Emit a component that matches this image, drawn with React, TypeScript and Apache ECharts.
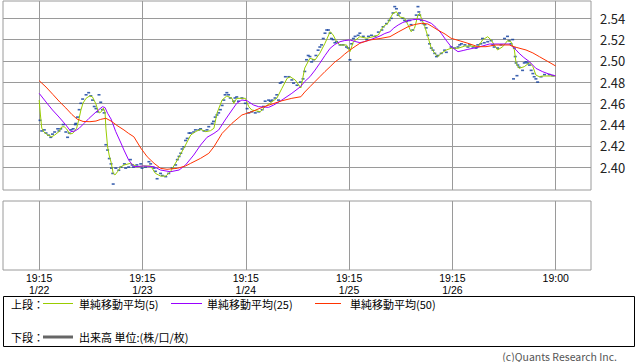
import React, { useEffect, useRef } from 'react';
import * as echarts from 'echarts';

const X_MIN = -8.4;
const X_MAX = 128.2;
const Y_MIN = 2.3784;
const Y_MAX = 2.5563;

const xTickValues = [0, 24, 48, 72, 96, 120];
const xTickLabels = ['19:15\n1/22', '19:15\n1/23', '19:15\n1/24', '19:15\n1/25', '19:15\n1/26', '19:00'];
const yTickValues = [2.40, 2.42, 2.44, 2.46, 2.48, 2.50, 2.52, 2.54];

const seriesNames = ['単純移動平均(5)', '単純移動平均(25)', '単純移動平均(50)'];
const upperLabel = '上段：';
const lowerLabel = '下段：';
const volumeLabel = '出来高 単位:(株/口/枚)';
const copyright = '(c)Quants Research Inc.';

// [hours since 1/22 19:15, price]
const prices: [number, number][] = [
  [0.2,2.444],[0.6,2.434],[1.2,2.435],[1.6,2.432],[2.2,2.430],[2.7,2.428],[3.1,2.431],[3.6,2.433],[4.3,2.436],[4.6,2.434],
  [5.0,2.436],[5.6,2.440],[6.2,2.433],[6.6,2.428],[7.0,2.432],[7.4,2.435],[7.9,2.436],[8.4,2.440],[8.5,2.441],[8.9,2.447],
  [9.3,2.454],[9.7,2.460],[10.1,2.464],[10.9,2.468],[11.5,2.470],[12.0,2.467],[12.4,2.463],[12.8,2.457],[13.2,2.455],[13.6,2.452],
  [13.9,2.468],[14.3,2.461],[14.7,2.454],[15.1,2.451],[15.5,2.421],[15.9,2.416],[16.3,2.408],[16.7,2.403],[16.8,2.399],[17.1,2.394],
  [17.2,2.384],[17.8,2.399],[18.5,2.397],[19.0,2.400],[19.8,2.403],[20.1,2.399],[20.8,2.400],[21.2,2.407],[21.6,2.402],[21.9,2.400],
  [22.7,2.402],[23.6,2.403],[23.9,2.399],[24.7,2.400],[25.5,2.405],[25.9,2.403],[26.7,2.399],[27.0,2.396],[27.4,2.389],[28.2,2.394],
  [28.6,2.392],[29.4,2.391],[30.1,2.394],[30.9,2.399],[31.7,2.402],[32.1,2.407],[32.5,2.410],[32.9,2.413],[33.2,2.417],[33.6,2.419],
  [34.0,2.425],[34.4,2.427],[34.8,2.432],[35.2,2.432],[35.9,2.433],[36.3,2.435],[37.1,2.435],[37.5,2.436],[38.3,2.434],[39.0,2.435],
  [39.4,2.438],[40.2,2.441],[40.5,2.443],[40.9,2.447],[41.3,2.449],[41.7,2.451],[42.1,2.454],[42.5,2.458],[42.9,2.463],[43.2,2.468],
  [43.6,2.470],[44.0,2.468],[44.4,2.465],[45.2,2.462],[45.5,2.465],[45.9,2.466],[46.3,2.462],[47.1,2.465],[47.9,2.460],[48.3,2.455],
  [48.7,2.451],[49.4,2.452],[50.2,2.451],[51.0,2.452],[51.8,2.454],[52.1,2.457],[52.5,2.462],[53.3,2.463],[53.7,2.462],[54.1,2.463],
  [54.8,2.465],[55.2,2.468],[55.6,2.463],[56.0,2.479],[56.4,2.480],[57.2,2.485],[58.0,2.485],[58.7,2.482],[59.1,2.479],[59.9,2.477],
  [60.7,2.480],[61.3,2.483],[61.7,2.490],[62.1,2.501],[62.5,2.505],[62.9,2.504],[63.3,2.499],[63.7,2.501],[64.3,2.505],[64.8,2.510],
  [65.2,2.513],[65.6,2.515],[66.0,2.521],[66.4,2.526],[66.8,2.529],[67.2,2.529],[67.6,2.526],[67.9,2.521],[68.3,2.520],[68.7,2.517],
  [69.1,2.518],[69.9,2.515],[70.6,2.515],[71.4,2.513],[71.8,2.512],[72.2,2.501],[72.6,2.516],[73.0,2.521],[73.4,2.523],[74.1,2.524],
  [74.5,2.526],[75.3,2.523],[76.1,2.520],[76.5,2.523],[77.2,2.524],[78.0,2.523],[78.8,2.527],[79.6,2.529],[79.9,2.532],[80.7,2.535],
  [81.3,2.538],[81.8,2.540],[82.2,2.545],[82.6,2.551],[83.0,2.549],[83.4,2.543],[83.7,2.545],[84.5,2.540],[84.9,2.538],[85.3,2.537],
  [85.7,2.538],[86.1,2.538],[86.4,2.534],[86.8,2.529],[87.6,2.543],[88.0,2.551],[88.2,2.546],[88.4,2.543],[88.8,2.538],[89.2,2.535],
  [89.6,2.534],[89.9,2.531],[90.3,2.524],[90.7,2.516],[91.1,2.512],[91.5,2.510],[91.9,2.507],[92.3,2.504],[92.6,2.505],[93.4,2.507],
  [94.2,2.510],[94.6,2.508],[95.7,2.513],[96.5,2.512],[97.3,2.513],[97.7,2.515],[98.1,2.516],[98.9,2.515],[99.6,2.513],[100.0,2.515],
  [100.8,2.513],[101.5,2.512],[101.9,2.515],[102.6,2.516],[103.0,2.521],[103.4,2.517],[104.2,2.518],[105.0,2.519],[105.4,2.515],[105.7,2.513],
  [106.5,2.512],[107.3,2.515],[108.1,2.521],[108.8,2.523],[109.2,2.519],[109.6,2.516],[110.0,2.520],[110.2,2.483],[110.4,2.512],[110.6,2.504],
  [110.8,2.498],[111.0,2.486],[111.2,2.496],[111.5,2.494],[112.3,2.491],[112.7,2.498],[113.1,2.499],[113.5,2.498],[113.9,2.496],[114.3,2.491],
  [114.7,2.488],[115.0,2.485],[115.4,2.483],[115.8,2.480],[116.6,2.485],[117.4,2.487],[118.5,2.487],[119.3,2.486]
];

const ma5: [number, number][] = [
  [0,2.4631],[0.3,2.4490],[0.6,2.4367],[1.1,2.4330],[2.0,2.4301],[2.9,2.4285],[3.6,2.4301],[4.6,2.4333],[5.2,2.4377],[5.8,2.4380],
  [6.4,2.4358],[7.1,2.4311],[7.8,2.4317],[8.7,2.4365],[9.2,2.4443],[9.7,2.4537],[10.2,2.4603],[10.9,2.4647],[11.8,2.4671],[12.4,2.4659],
  [13.2,2.4593],[13.6,2.4537],[14.0,2.4509],[14.5,2.4523],[14.9,2.4556],[15.3,2.4518],[15.5,2.4367],[15.9,2.4191],[16.3,2.4104],[16.7,2.4047],
  [17.2,2.3941],[17.6,2.3925],[18.2,2.3956],[19.0,2.4003],[19.7,2.4019],[21.2,2.4035],[22.8,2.4003],[24.3,2.4010],[25.9,2.4010],[27.0,2.3941],
  [28.2,2.3915],[29.4,2.3915],[30.5,2.3956],[32.1,2.4066],[33.6,2.4176],[35.2,2.4301],[36.3,2.4333],[37.5,2.4355],[38.7,2.4333],[39.8,2.4342],
  [40.6,2.4365],[41.3,2.4506],[42.5,2.4631],[43.6,2.4669],[44.8,2.4647],[45.2,2.4600],[45.9,2.4647],[47.9,2.4647],[48.7,2.4568],[49.4,2.4537],
  [51.4,2.4521],[52.5,2.4568],[54.1,2.4615],[55.2,2.4647],[56.4,2.4741],[57.6,2.4835],[58.3,2.4850],[59.5,2.4819],[60.8,2.4744],[61.7,2.4932],
  [62.9,2.5024],[64.1,2.5008],[65.2,2.5071],[66.4,2.5165],[67.6,2.5274],[68.3,2.5243],[69.1,2.5180],[69.9,2.5149],[71.4,2.5149],[72.2,2.5086],
  [73.0,2.5180],[74.5,2.5227],[76.1,2.5212],[77.6,2.5227],[78.8,2.5243],[79.9,2.5321],[81.0,2.5353],[81.6,2.5403],[82.2,2.5447],[83.0,2.5462],
  [83.7,2.5415],[84.9,2.5400],[85.7,2.5337],[86.4,2.5274],[87.2,2.5306],[88.0,2.5431],[88.4,2.5447],[88.8,2.5400],[89.6,2.5321],[90.3,2.5227],
  [91.1,2.5118],[91.9,2.5071],[92.6,2.5039],[93.4,2.5071],[94.6,2.5102],[95.7,2.5118],[97.3,2.5118],[98.9,2.5139],[100.4,2.5139],[101.9,2.5127],
  [103.0,2.5196],[104.2,2.5227],[105.0,2.5196],[106.5,2.5102],[107.7,2.5133],[108.8,2.5189],[109.6,2.5180],[110.4,2.5102],[110.8,2.4977],[111.5,2.4929],
  [112.7,2.4945],[113.9,2.4982],[114.7,2.4945],[115.4,2.4866],[116.2,2.4850],[117.0,2.4857],[120.0,2.4857]
];

const ma25: [number, number][] = [
  [0,2.4694],[1.6,2.4612],[3.1,2.4537],[4.6,2.4471],[6.2,2.4396],[7.4,2.4333],[8.3,2.4339],[9.3,2.4365],[10.4,2.4410],[11.6,2.4459],
  [13.2,2.4518],[14.7,2.4568],[15.3,2.4560],[15.9,2.4506],[16.7,2.4452],[17.8,2.4333],[19.0,2.4226],[19.7,2.4160],[20.8,2.4066],[22.0,2.4003],
  [24.3,2.4010],[26.7,2.4003],[28.2,2.3972],[30.5,2.3956],[32.5,2.3972],[34.0,2.4019],[35.9,2.4113],[37.5,2.4207],[39.0,2.4280],[40.6,2.4317],
  [41.7,2.4349],[43.2,2.4443],[44.8,2.4537],[45.9,2.4600],[47.1,2.4631],[48.3,2.4624],[49.8,2.4584],[51.0,2.4568],[53.3,2.4562],[54.5,2.4584],
  [56.4,2.4631],[58.7,2.4694],[60.7,2.4756],[61.7,2.4805],[62.9,2.4850],[64.1,2.4913],[65.2,2.4977],[66.4,2.5050],[67.6,2.5118],[68.7,2.5154],
  [69.9,2.5180],[71.0,2.5191],[72.2,2.5196],[73.4,2.5182],[74.5,2.5171],[75.7,2.5182],[76.8,2.5196],[78.0,2.5215],[79.2,2.5234],[80.3,2.5257],
  [81.5,2.5274],[82.4,2.5309],[83.4,2.5337],[84.5,2.5361],[85.7,2.5378],[86.8,2.5387],[88.0,2.5391],[89.6,2.5378],[91.1,2.5353],[92.2,2.5314],
  [93.4,2.5259],[94.5,2.5196],[95.7,2.5133],[97.3,2.5086],[98.5,2.5097],[99.6,2.5108],[101.9,2.5127],[104.6,2.5158],[106.9,2.5158],[109.2,2.5158],
  [110.0,2.5133],[110.8,2.5102],[111.5,2.5071],[112.6,2.5031],[113.9,2.4992],[115.4,2.4929],[117.0,2.4897],[118.4,2.4876],[120.0,2.4857]
];

const ma50: [number, number][] = [
  [0,2.4813],[1.6,2.4753],[3.2,2.4683],[4.8,2.4612],[6.2,2.4556],[7.6,2.4495],[8.8,2.4452],[10.2,2.4429],[11.8,2.4427],[13.2,2.4433],
  [14.3,2.4449],[15.5,2.4459],[16.7,2.4433],[18.1,2.4391],[19.7,2.4349],[20.8,2.4316],[22.0,2.4285],[23.6,2.4179],[25.1,2.4097],[26.7,2.4035],
  [28.2,2.3988],[29.7,2.3979],[32.1,2.3988],[34.0,2.4010],[35.2,2.4035],[37.5,2.4082],[39.4,2.4129],[40.6,2.4191],[42.5,2.4317],[44.8,2.4412],
  [47.1,2.4490],[49.4,2.4521],[51.8,2.4562],[54.1,2.4593],[56.4,2.4624],[58.7,2.4647],[60.8,2.4662],[61.7,2.4706],[62.9,2.4756],[64.1,2.4805],
  [65.2,2.4850],[66.4,2.4899],[67.6,2.4945],[68.7,2.4989],[69.9,2.5024],[71.0,2.5064],[72.2,2.5102],[73.4,2.5135],[74.5,2.5165],[75.7,2.5182],
  [76.8,2.5196],[79.2,2.5210],[81.5,2.5227],[83.4,2.5271],[85.7,2.5321],[87.3,2.5342],[88.8,2.5353],[90.3,2.5347],[91.5,2.5318],[92.6,2.5290],
  [94.3,2.5252],[95.7,2.5212],[97.8,2.5187],[99.6,2.5165],[101.9,2.5133],[103.8,2.5133],[106.1,2.5149],[109.2,2.5149],[110.8,2.5127],[113.1,2.5102],
  [114.7,2.5074],[116.2,2.5039],[118.2,2.4993],[120.0,2.4951]
];

const volume: [number, number][] = [];

const FONT = '"Noto Sans CJK JP", "Noto Sans", sans-serif';
const LATIN_FONT = '"Liberation Sans", "DejaVu Sans", sans-serif';
const GRID_COLOR = '#9a9a9a';
const COLORS = ['#99cc00', '#9900ff', '#ff3300'];

export default function App() {
  const ref = useRef<HTMLDivElement>(null);

  useEffect(() => {
    if (!ref.current) return;
    const chart = echarts.init(ref.current, undefined, { renderer: 'svg' });

    const xLabelFormatter = (v: number) => {
      const i = xTickValues.findIndex((t) => Math.abs(t - v) < 1e-6);
      return i >= 0 ? xTickLabels[i] : '';
    };
    const yLabelFormatter = (v: number) => {
      const ok = yTickValues.some((t) => Math.abs(t - v) < 1e-6);
      return ok ? v.toFixed(2) : '';
    };

    const legendY1 = 303.5;
    const legendY2 = 337;
    const legendItems = [
      { x1: 43, x2: 73, tx: 79 },
      { x1: 171, x2: 202, tx: 207 },
      { x1: 315, x2: 341, tx: 350 },
    ];

    const graphic: any[] = [
      {
        type: 'rect',
        silent: true,
        shape: { x: 3.5, y: 296.5, width: 631, height: 50 },
        style: { fill: '#fff', stroke: '#000', lineWidth: 1 },
      },
      {
        type: 'text',
        x: 11,
        y: legendY1,
        style: { text: upperLabel, fontSize: 11, fontFamily: FONT, fill: '#000', verticalAlign: 'middle' },
      },
      {
        type: 'text',
        x: 11,
        y: legendY2,
        style: { text: lowerLabel, fontSize: 11, fontFamily: FONT, fill: '#000', verticalAlign: 'middle' },
      },
      {
        type: 'line',
        shape: { x1: 43, y1: legendY2, x2: 73, y2: legendY2 },
        style: { stroke: '#666', lineWidth: 3 },
      },
      {
        type: 'text',
        x: 79,
        y: legendY2,
        style: { text: volumeLabel, fontSize: 11, fontFamily: FONT, fill: '#000', verticalAlign: 'middle' },
      },
      {
        type: 'text',
        x: 617,
        y: 356,
        style: {
          text: copyright,
          fontSize: 10.5,
          lineHeight: 11,
          fontFamily: FONT,
          fill: '#555',
          align: 'right',
          verticalAlign: 'middle',
        },
      },
    ];
    legendItems.forEach((it, i) => {
      graphic.push({
        type: 'line',
        shape: { x1: it.x1, y1: legendY1, x2: it.x2, y2: legendY1 },
        style: { stroke: COLORS[i], lineWidth: 1 },
      });
      graphic.push({
        type: 'text',
        x: it.tx,
        y: legendY1,
        style: { text: seriesNames[i], fontSize: 11, fontFamily: FONT, fill: '#000', verticalAlign: 'middle' },
      });
    });

    const option: any = {
      animation: false,
      backgroundColor: '#fff',
      textStyle: { fontFamily: FONT },
      grid: [
        { left: 3, top: 1, width: 588, height: 189, show: true, borderColor: GRID_COLOR, borderWidth: 1 },
        { left: 3, top: 201, width: 588, height: 69, show: true, borderColor: GRID_COLOR, borderWidth: 1 },
      ],
      xAxis: [
        {
          type: 'value',
          gridIndex: 0,
          min: X_MIN,
          max: X_MAX,
          axisLine: { show: false },
          axisTick: { show: false, customValues: xTickValues },
          axisLabel: { show: false, customValues: xTickValues },
          splitLine: { show: true, lineStyle: { color: GRID_COLOR, width: 1 } },
        },
        {
          type: 'value',
          gridIndex: 1,
          min: X_MIN,
          max: X_MAX,
          axisLine: { show: false },
          axisTick: { show: false, customValues: xTickValues },
          axisLabel: {
            show: true,
            customValues: xTickValues,
            formatter: xLabelFormatter,
            fontSize: 10.5,
            lineHeight: 12.2,
            margin: 2,
            color: '#000',
            fontFamily: LATIN_FONT,
          },
          splitLine: { show: true, lineStyle: { color: GRID_COLOR, width: 1 } },
        },
      ],
      yAxis: [
        {
          type: 'value',
          gridIndex: 0,
          position: 'right',
          min: Y_MIN,
          max: Y_MAX,
          axisLine: { show: false },
          axisTick: { show: true, inside: false, length: 5, customValues: yTickValues, lineStyle: { color: GRID_COLOR } },
          axisLabel: {
            show: true,
            customValues: yTickValues,
            formatter: yLabelFormatter,
            fontSize: 13,
            margin: 9,
            color: '#222',
            fontFamily: FONT,
          },
          splitLine: { show: true, lineStyle: { color: GRID_COLOR, width: 1 } },
        },
        {
          type: 'value',
          gridIndex: 1,
          min: 0,
          max: 1,
          axisLine: { show: false },
          axisTick: { show: false },
          axisLabel: { show: false },
          splitLine: { show: false },
        },
      ],
      series: [
        {
          name: '出来高',
          type: 'bar',
          xAxisIndex: 1,
          yAxisIndex: 1,
          data: volume,
          itemStyle: { color: '#666' },
        },
        {
          name: '価格',
          type: 'scatter',
          xAxisIndex: 0,
          yAxisIndex: 0,
          data: prices,
          symbol: 'rect',
          symbolSize: [3, 1.6],
          itemStyle: { color: '#0b3b9c' },
          z: 1,
        },
        {
          name: seriesNames[0],
          type: 'line',
          xAxisIndex: 0,
          yAxisIndex: 0,
          data: ma5,
          showSymbol: false,
          lineStyle: { color: COLORS[0], width: 1 },
          z: 2,
        },
        {
          name: seriesNames[1],
          type: 'line',
          xAxisIndex: 0,
          yAxisIndex: 0,
          data: ma25,
          showSymbol: false,
          lineStyle: { color: COLORS[1], width: 1 },
          z: 3,
        },
        {
          name: seriesNames[2],
          type: 'line',
          xAxisIndex: 0,
          yAxisIndex: 0,
          data: ma50,
          showSymbol: false,
          lineStyle: { color: COLORS[2], width: 1 },
          z: 4,
        },
      ],
      graphic,
    };

    chart.setOption(option);
    return () => {
      chart.dispose();
    };
  }, []);

  return (
    <div
      ref={ref}
      style={{ position: 'absolute', left: 0, top: 0, width: 638, height: 362, background: '#fff' }}
    />
  );
}
